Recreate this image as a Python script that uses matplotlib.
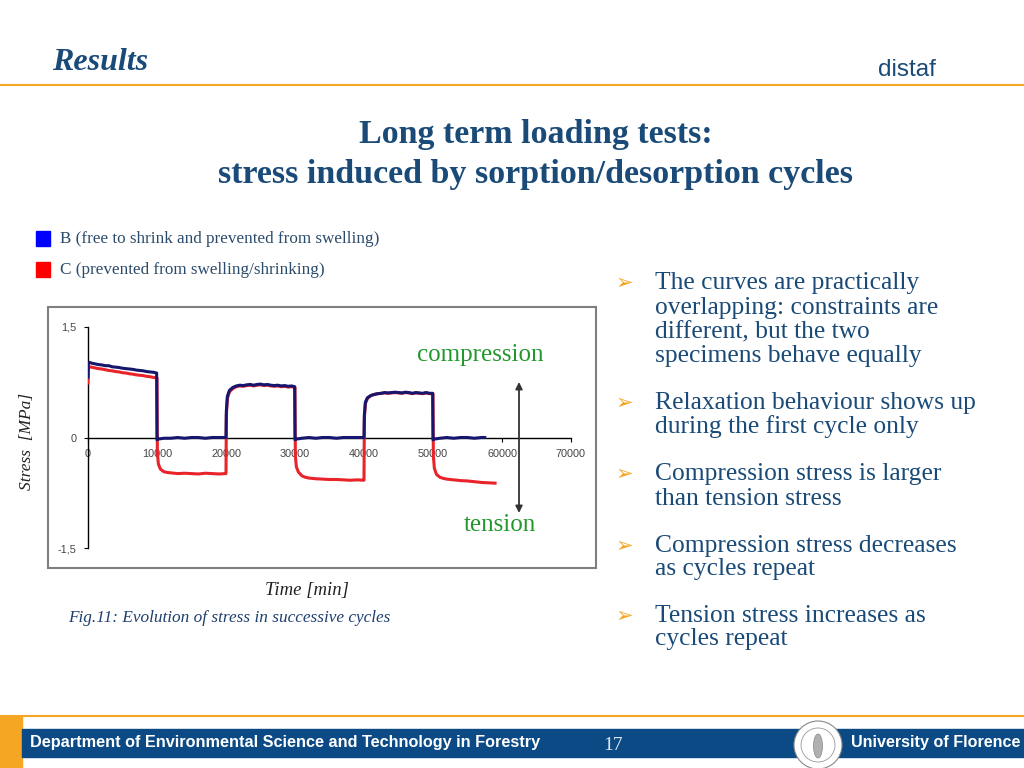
import matplotlib
matplotlib.use('Agg')
import matplotlib.pyplot as plt
from matplotlib.patches import Rectangle, Ellipse
from matplotlib.lines import Line2D

# stress [MPa] vs time [min]
# B: free to shrink and prevented from swelling (blue)
b_time = [0, 50, 200, 500, 1000, 1500, 2000, 2500, 3000, 3500, 4000, 4500, 5000,
          5500, 6000, 6500, 7000, 7500, 8000, 8500, 9000, 9500, 9950,
          10000, 10300, 11000, 12000, 13000, 14000, 15000, 16000, 17000, 18000, 19000, 19950,
          20000, 20050, 20200, 20500, 21000, 21500, 22000, 22500, 23000, 23500, 24000, 24500,
          25000, 25500, 26000, 26500, 27000, 27500, 28000, 28500, 29000, 29500, 29950,
          30000, 30300, 31000, 32000, 33000, 34000, 35000, 36000, 37000, 38000, 39000, 39950,
          40000, 40050, 40200, 40500, 41000, 41500, 42000, 42500, 43000, 43500, 44000, 44500,
          45000, 45500, 46000, 46500, 47000, 47500, 48000, 48500, 49000, 49500, 49950,
          50000, 50300, 51000, 52000, 53000, 54000, 55000, 56000, 57000, 57500]
b_stress = [0.82, 1.00, 1.02, 1.01, 1.00, 0.99, 0.985, 0.975, 0.975, 0.96, 0.955, 0.95, 0.94,
            0.935, 0.93, 0.925, 0.915, 0.91, 0.905, 0.895, 0.89, 0.885, 0.875,
            -0.03, -0.02, -0.01, -0.01, 0.0, -0.01, 0.0, 0.0, -0.01, 0.0, 0.0, 0.0,
            0.0, 0.36, 0.56, 0.64, 0.68, 0.70, 0.71, 0.705, 0.715, 0.72, 0.71, 0.72,
            0.725, 0.715, 0.72, 0.71, 0.705, 0.71, 0.70, 0.705, 0.695, 0.70, 0.69,
            -0.03, -0.02, -0.01, 0.0, -0.01, 0.0, 0.0, -0.01, 0.0, 0.0, 0.0, 0.0,
            0.0, 0.30, 0.48, 0.54, 0.57, 0.585, 0.595, 0.60, 0.61, 0.605, 0.61, 0.615,
            0.61, 0.605, 0.615, 0.61, 0.60, 0.61, 0.605, 0.60, 0.61, 0.60, 0.60,
            -0.03, -0.02, -0.01, 0.0, -0.01, 0.0, 0.0, -0.01, 0.0, 0.0]

# C: prevented from swelling/shrinking (red)
c_time = [0, 50, 200, 500, 1000, 1500, 2000, 2500, 3000, 3500, 4000, 4500, 5000,
          5500, 6000, 6500, 7000, 7500, 8000, 8500, 9000, 9500, 9950,
          10000, 10050, 10200, 10500, 11000, 11500, 12000, 13000, 14000, 15000, 16000,
          17000, 18000, 19000, 19950,
          20000, 20050, 20200, 20500, 21000, 21500, 22000, 22500, 23000, 23500, 24000, 24500,
          25000, 25500, 26000, 26500, 27000, 27500, 28000, 28500, 29000, 29500, 29950,
          30000, 30050, 30200, 30500, 31000, 31500, 32000, 33000, 34000, 35000, 36000,
          37000, 38000, 39000, 39950,
          40000, 40050, 40200, 40500, 41000, 41500, 42000, 42500, 43000, 43500, 44000, 44500,
          45000, 45500, 46000, 46500, 47000, 47500, 48000, 48500, 49000, 49500, 49950,
          50000, 50050, 50200, 50500, 51000, 51500, 52000, 53000, 54000, 55000, 56000,
          57000, 58000, 59000]
c_stress = [0.74, 0.93, 0.96, 0.955, 0.945, 0.935, 0.93, 0.92, 0.91, 0.905, 0.895, 0.89, 0.88,
            0.875, 0.865, 0.86, 0.85, 0.845, 0.84, 0.83, 0.825, 0.815, 0.81,
            0.81, -0.20, -0.36, -0.43, -0.465, -0.475, -0.48, -0.49, -0.485, -0.49, -0.495,
            -0.485, -0.49, -0.495, -0.49,
            -0.49, 0.30, 0.53, 0.62, 0.665, 0.69, 0.70, 0.695, 0.705, 0.71, 0.70, 0.71,
            0.715, 0.705, 0.71, 0.70, 0.695, 0.70, 0.69, 0.695, 0.685, 0.69, 0.68,
            0.68, -0.25, -0.40, -0.47, -0.52, -0.54, -0.55, -0.56, -0.565, -0.57, -0.57,
            -0.575, -0.58, -0.575, -0.58,
            -0.58, 0.26, 0.46, 0.53, 0.57, 0.585, 0.595, 0.60, 0.605, 0.60, 0.605, 0.61,
            0.605, 0.60, 0.61, 0.605, 0.595, 0.605, 0.60, 0.595, 0.605, 0.595, 0.595,
            0.595, -0.25, -0.42, -0.50, -0.54, -0.555, -0.565, -0.575, -0.585, -0.59, -0.60,
            -0.61, -0.615, -0.62]

x_ticks = [0, 10000, 20000, 30000, 40000, 50000, 60000, 70000]
y_ticks = [-1.5, 0, 1.5]
y_ticklabels = ['-1,5', '0', '1,5']

bullets = [
    ['The curves are practically', 'overlapping: constraints are',
     'different, but the two', 'specimens behave equally'],
    ['Relaxation behaviour shows up', 'during the first cycle only'],
    ['Compression stress is larger', 'than tension stress'],
    ['Compression stress decreases', 'as cycles repeat'],
    ['Tension stress increases as', 'cycles repeat'],
]

navy = '#1a4a78'
orange = '#f5a623'
green = '#22982c'
serif = 'Liberation Serif'
sans = 'Liberation Sans'


def fx(px):
    return px / 1024


def fy(py):
    return 1 - py / 768


fig = plt.figure(figsize=(10.24, 7.68), dpi=100)
fig.patch.set_facecolor('white')

# header
fig.text(fx(52), fy(70), 'Results', fontsize=23, fontweight='bold', style='italic',
         family=serif, color=navy, va='baseline')
fig.text(fx(936), fy(76), 'distaf', fontsize=17.5, family=sans, color=navy,
         va='baseline', ha='right')
fig.add_artist(Line2D([0, 1], [fy(85), fy(85)], color=orange, lw=1.5))

fig.text(fx(536), fy(143), 'Long term loading tests:', fontsize=24.5, fontweight='bold',
         family=serif, color=navy, ha='center', va='baseline')
fig.text(fx(536), fy(183), 'stress induced by sorption/desorption cycles', fontsize=24.5,
         fontweight='bold', family=serif, color=navy, ha='center', va='baseline')

# legend squares
fig.add_artist(Rectangle((fx(36), fy(246)), 14 / 1024, 15 / 768, color='#0000ff',
                         transform=fig.transFigure))
fig.add_artist(Rectangle((fx(36), fy(277)), 14 / 1024, 15 / 768, color='#ff0000',
                         transform=fig.transFigure))
fig.text(fx(60), fy(243), 'B (free to shrink and prevented from swelling)', fontsize=12.3,
         family=serif, color='#2b4b6b', va='baseline')
fig.text(fx(60), fy(274), 'C (prevented from swelling/shrinking)', fontsize=12.3,
         family=serif, color='#2b4b6b', va='baseline')

# chart frame
fig.add_artist(Rectangle((fx(48), fy(568)), 548 / 1024, 261 / 768, facecolor='white',
                         edgecolor='#7f7f7f', lw=1.5, transform=fig.transFigure, zorder=0))

ax = fig.add_axes([fx(88), fy(548), (571 - 88) / 1024, (548 - 327) / 768])
ax.set_facecolor('none')
ax.plot(c_time, c_stress, color='#e8232a', lw=2.2, zorder=3)
ax.plot(b_time, b_stress, color='#16166e', lw=2.2, zorder=4)
ax.set_xlim(0, 70000)
ax.set_ylim(-1.5, 1.5)
ax.spines['top'].set_visible(False)
ax.spines['right'].set_visible(False)
ax.spines['bottom'].set_position(('data', 0))
ax.spines['bottom'].set_linewidth(1.0)
ax.spines['left'].set_linewidth(1.0)
ax.set_xticks(x_ticks)
ax.set_xticklabels([str(t) for t in x_ticks])
ax.set_yticks(y_ticks)
ax.set_yticklabels(y_ticklabels)
ax.tick_params(axis='both', labelsize=7.8, labelcolor='#444444', length=3, width=0.8,
               pad=5)
for lab in ax.get_xticklabels() + ax.get_yticklabels():
    lab.set_family(sans)

fig.text(fx(480), fy(361), 'compression', fontsize=18, family=serif, color=green,
         ha='center', va='baseline')
fig.text(fx(500), fy(531), 'tension', fontsize=18, family=serif, color=green,
         ha='center', va='baseline')
ax.annotate('', xy=(fx(519), fy(513)), xytext=(fx(519), fy(382)),
            xycoords='figure fraction', textcoords='figure fraction',
            arrowprops=dict(arrowstyle='<|-|>', color='#333333', lw=1.3,
                            mutation_scale=10, shrinkA=0, shrinkB=0))

fig.text(fx(27), fy(441), 'Stress  [MPa]', fontsize=12.5, style='italic', family=serif,
         color='#222222', rotation=90, ha='center', va='center')
fig.text(fx(307), fy(595), 'Time [min]', fontsize=13.5, style='italic', family=serif,
         color='#222222', ha='center', va='baseline')
fig.text(fx(68), fy(622), 'Fig.11: Evolution of stress in successive cycles', fontsize=12.4,
         style='italic', family=serif, color='#1f3f6f', va='baseline')

# bullets
baselines = [[289, 314, 338, 362], [409, 433], [480, 505], [552, 575], [622, 645]]
for lines, ys in zip(bullets, baselines):
    fig.text(fx(616), fy(ys[0] - 6), '\u27a2', fontsize=15, family='DejaVu Sans',
             color=orange, va='center')
    for line, yb in zip(lines, ys):
        fig.text(fx(655), fy(yb), line, fontsize=18.4, family=serif, color=navy,
                 va='baseline')

# footer
fig.add_artist(Line2D([0, 1], [fy(716), fy(716)], color=orange, lw=1.5))
fig.add_artist(Rectangle((0, 0), 22 / 1024, 52 / 768, color=orange,
                         transform=fig.transFigure))
fig.add_artist(Rectangle((fx(22), fy(757)), 1002 / 1024, 28 / 768, color='#0b4a85',
                         transform=fig.transFigure))
fig.text(fx(30), fy(743), 'Department of Environmental Science and Technology in Forestry',
         fontsize=11.7, fontweight='bold', family=sans, color='white', va='center')
fig.text(fx(613), fy(745), '17', fontsize=14, family=serif, color='#dde6f0',
         ha='center', va='center')
fig.add_artist(Ellipse((fx(818), fy(745)), 48 / 1024, 48 / 768, facecolor='white',
                       edgecolor='#888888', lw=0.8, transform=fig.transFigure))
fig.add_artist(Ellipse((fx(818), fy(745)), 34 / 1024, 34 / 768, facecolor='white',
                       edgecolor='#999999', lw=0.6, transform=fig.transFigure))
fig.add_artist(Ellipse((fx(818), fy(746)), 9 / 1024, 24 / 768, facecolor='#b0b0b0',
                       edgecolor='#888888', lw=0.5, transform=fig.transFigure))
fig.text(fx(1020), fy(743), 'University of Florence', fontsize=11.6, fontweight='bold',
         family=sans, color='white', va='center', ha='right')

fig.savefig('out.png', dpi=100)
